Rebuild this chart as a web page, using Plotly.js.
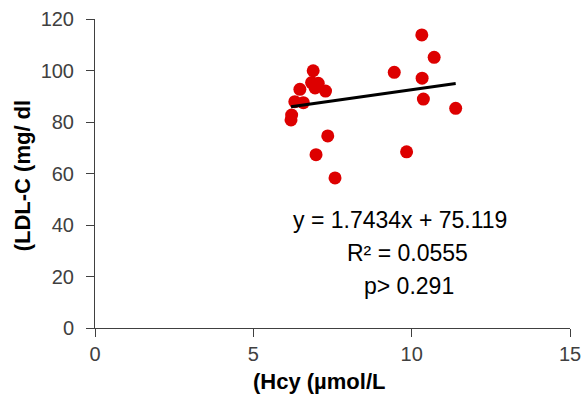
<!DOCTYPE html>
<html>
<head>
<meta charset="utf-8">
<script src="https://cdn.plot.ly/plotly-3.0.1.min.js"></script>
<style>html,body{margin:0;padding:0;background:#fff;}#chart{width:581px;height:394px;}</style>
</head>
<body>
<div id="chart"></div>
<script>
// Hcy (µmol/L) values
const hcy = [10.32, 10.71, 9.45, 10.33, 10.37, 11.39, 9.84,
             6.89, 6.84, 7.05, 6.95, 6.47, 7.28, 6.31, 6.58, 6.21, 6.19, 7.35, 6.98, 7.58];
// LDL-C (mg/dl) values
const ldl = [113.8, 105.1, 99.3, 97.0, 88.9, 85.3, 68.4,
             99.9, 95.3, 95.0, 93.2, 92.7, 92.0, 87.9, 87.5, 82.7, 80.8, 74.6, 67.3, 58.3];
// Trendline parameters
const slope = 1.7434;
const intercept = 75.119;
const xTicks = [0, 5, 10, 15];
const yTicks = [0, 20, 40, 60, 80, 100, 120];
const statLines = ["y = 1.7434x + 75.119", "R² = 0.0555", "p> 0.291"];
const xTitle = "(Hcy (µmol/L";
const yTitle = "(LDL-C (mg/ dl";

const xMin = Math.min(...hcy), xMax = Math.max(...hcy);
const trendX = [xMin, xMax];
const trendY = trendX.map(v => slope * v + intercept);

const data = [
  {x: hcy, y: ldl, type: 'scatter', mode: 'markers',
   marker: {color: '#dd0000', size: 13}, showlegend: false, hoverinfo: 'skip', cliponaxis: false},
  {x: trendX, y: trendY, type: 'scatter', mode: 'lines',
   line: {color: '#000000', width: 3}, showlegend: false, hoverinfo: 'skip'}
];

const fontFam = 'Liberation Sans, Arial, sans-serif';
const statPos = [[0.642, 0.3495], [0.657, 0.2427], [0.661, 0.1359]];
const annotations = statLines.map((t, i) => ({
  text: t, xref: 'paper', yref: 'paper', x: statPos[i][0], y: statPos[i][1],
  xanchor: 'center', yanchor: 'middle', showarrow: false,
  font: {family: fontFam, size: 23, color: '#000'}
}));
annotations.push({
  text: '<b>' + xTitle + '</b>', xref: 'paper', yref: 'paper', x: 0.4716, y: -0.172,
  xanchor: 'center', yanchor: 'middle', showarrow: false,
  font: {family: fontFam, size: 22, color: '#000'}
});
annotations.push({
  text: '<b>' + yTitle + '</b>', xref: 'paper', yref: 'paper', x: -0.1537, y: 0.494,
  xanchor: 'center', yanchor: 'middle', showarrow: false, textangle: -90,
  font: {family: fontFam, size: 22, color: '#000'}
});

const layout = {
  width: 581, height: 394,
  margin: {l: 95, r: 11, t: 19, b: 66},
  paper_bgcolor: '#fff', plot_bgcolor: '#fff',
  font: {family: fontFam},
  xaxis: {
    range: [0, 15.0001], tickvals: xTicks, ticktext: xTicks.map(String),
    showgrid: false, zeroline: false, showline: true, linecolor: '#404040', linewidth: 1,
    ticks: 'outside', ticklen: 8, tickcolor: '#404040', tickwidth: 1,
    tickfont: {size: 20, color: '#404040'}, ticklabeloverflow: 'allow',
    automargin: false
  },
  yaxis: {
    range: [0, 120], tickvals: yTicks, ticktext: yTicks.map(String),
    showgrid: false, zeroline: false, showline: true, linecolor: '#404040', linewidth: 1,
    ticks: 'outside', ticklen: 8, tickcolor: '#404040', tickwidth: 1,
    tickfont: {size: 20, color: '#404040'}, ticklabelstandoff: 8,
    automargin: false
  },
  annotations: annotations
};

Plotly.newPlot('chart', data, layout, {staticPlot: true, displayModeBar: false});
</script>
</body>
</html>
